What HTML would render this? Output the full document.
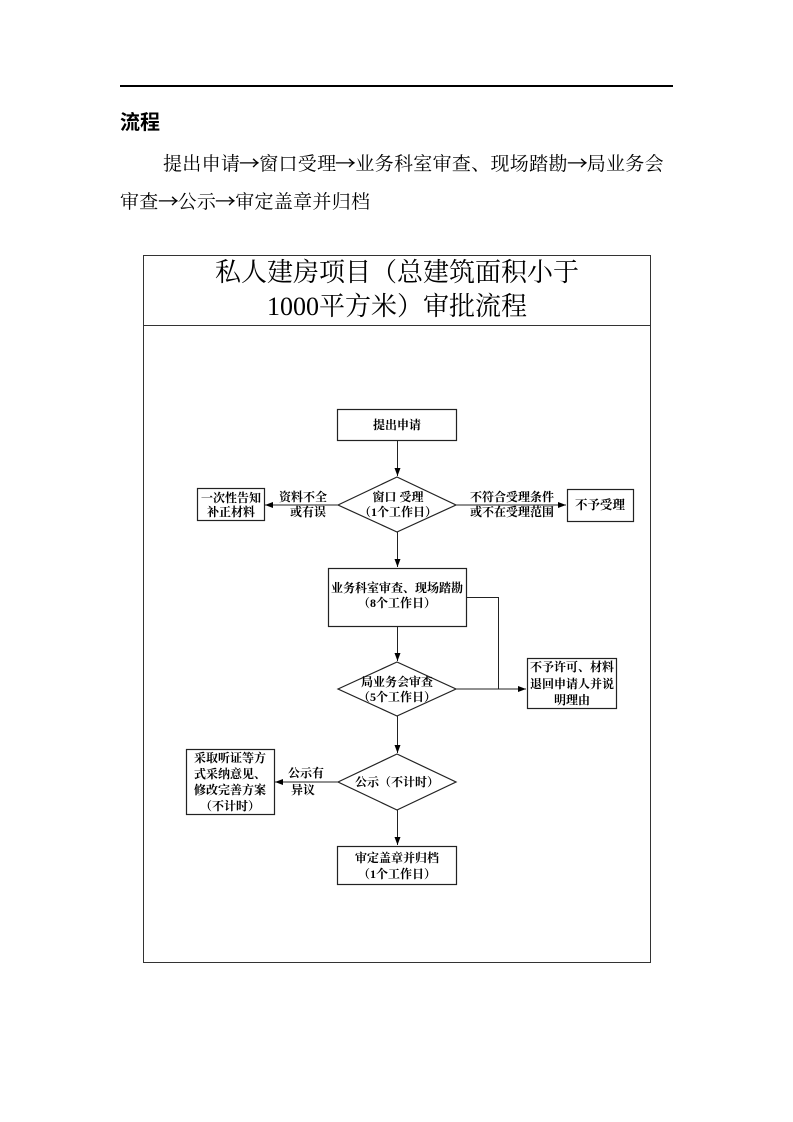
<!DOCTYPE html>
<html><head><meta charset="utf-8"><style>
body{margin:0;background:#fff;width:793px;height:1122px;position:relative;overflow:hidden;font-family:"Liberation Serif","Noto Serif CJK SC",serif;color:#000}
.t{position:absolute;white-space:nowrap}
.ar{font-family:"Noto Sans CJK SC",sans-serif;display:inline-block;width:19px;transform:scaleX(1.1)}
</style></head><body>
<div style="position:absolute;left:120px;top:85px;width:553px;height:1.5px;background:#000"></div>
<div class="t" style="left:120px;top:106px;font-size:20px;font-weight:bold;font-family:'Liberation Sans','Noto Sans CJK SC',sans-serif">流程</div>
<div class="t" style="left:163px;top:149px;font-size:19px;letter-spacing:0.3px">提出申请<span class="ar">→</span>窗口受理<span class="ar">→</span>业务科室审查、现场踏勘<span class="ar">→</span>局业务会</div>
<div class="t" style="left:120px;top:187px;font-size:19px;letter-spacing:0.3px">审查<span class="ar">→</span>公示<span class="ar">→</span>审定盖章并归档</div>
<svg width="793" height="1122" style="position:absolute;left:0;top:0" font-family="Liberation Serif, Noto Serif CJK SC, serif">
<defs><marker id="a" markerWidth="8" markerHeight="6" refX="8" refY="3" orient="auto"><path d="M0,0 L8,3 L0,6z"/></marker></defs>
<g fill="none" stroke="#333" stroke-width="1">
<rect x="143.5" y="255.5" width="507" height="707"/>
<line x1="143" y1="325.5" x2="650" y2="325.5"/>
</g>
<g font-size="26" text-anchor="middle">
<text x="397" y="281">私人建房项目（总建筑面积小于</text>
<text x="397" y="315">1000平方米）审批流程</text>
</g>
<g fill="#fff" stroke="#222" stroke-width="1.2">
<rect x="337.5" y="409.5" width="119" height="31"/>
<polygon points="338,505 397,477 456,505 397,532"/>
<rect x="197.5" y="488.5" width="67" height="32"/>
<rect x="567.5" y="489.5" width="66" height="32"/>
<rect x="328.5" y="568.5" width="138" height="58"/>
<polygon points="338,689 397,662 456,689 397,716"/>
<rect x="527.5" y="658.5" width="89" height="50"/>
<polygon points="338,782 397,754 456,782 397,810"/>
<rect x="186.5" y="749.5" width="88" height="65"/>
<rect x="337.5" y="846.5" width="119" height="38"/>
</g>
<g stroke="#222" stroke-width="1" fill="none" marker-end="url(#a)">
<line x1="397.5" y1="441" x2="397.5" y2="476"/>
<line x1="338" y1="505" x2="265" y2="505"/>
<line x1="456" y1="505" x2="566" y2="505"/>
<line x1="397.5" y1="532" x2="397.5" y2="567"/>
<line x1="397.5" y1="627" x2="397.5" y2="661"/>
<line x1="456" y1="689" x2="526" y2="689"/>
<line x1="397.5" y1="716" x2="397.5" y2="753"/>
<line x1="338" y1="782" x2="275" y2="782"/>
<line x1="397.5" y1="810" x2="397.5" y2="845"/>
</g>
<polyline points="467,597.5 498.5,597.5 498.5,689" stroke="#222" fill="none"/>
<g font-size="12" font-weight="bold" text-anchor="middle">
<text x="397" y="429">提出申请</text>
<text x="398" y="501">窗口 受理</text>
<text x="398" y="516">（1个工作日）</text>
<text x="231" y="502">一次性告知</text>
<text x="231" y="516">补正材料</text>
<text x="303" y="501">资料不全</text>
<text x="308" y="516">或有误</text>
<text x="512" y="501">不符合受理条件</text>
<text x="512" y="516">或不在受理范围</text>
<text x="600" y="509" font-size="12.5">不予受理</text>
<text x="397" y="592">业务科室审查、现场踏勘</text>
<text x="397" y="607">（8个工作日）</text>
<text x="397" y="686">局业务会审查</text>
<text x="397" y="701">（5个工作日）</text>
<text x="572" y="671">不予许可、材料</text>
<text x="572" y="688">退回申请人并说</text>
<text x="572" y="704">明理由</text>
<text x="230" y="762">采取听证等方</text>
<text x="230" y="778">式采纳意见、</text>
<text x="230" y="794">修改完善方案</text>
<text x="230" y="810">（不计时）</text>
<text x="306" y="777">公示有</text>
<text x="303" y="794">异议</text>
<text x="397" y="786">公示（不计时）</text>
<text x="397" y="862">审定盖章并归档</text>
<text x="397" y="878">（1个工作日）</text>
</g>
</svg>
</body></html>
